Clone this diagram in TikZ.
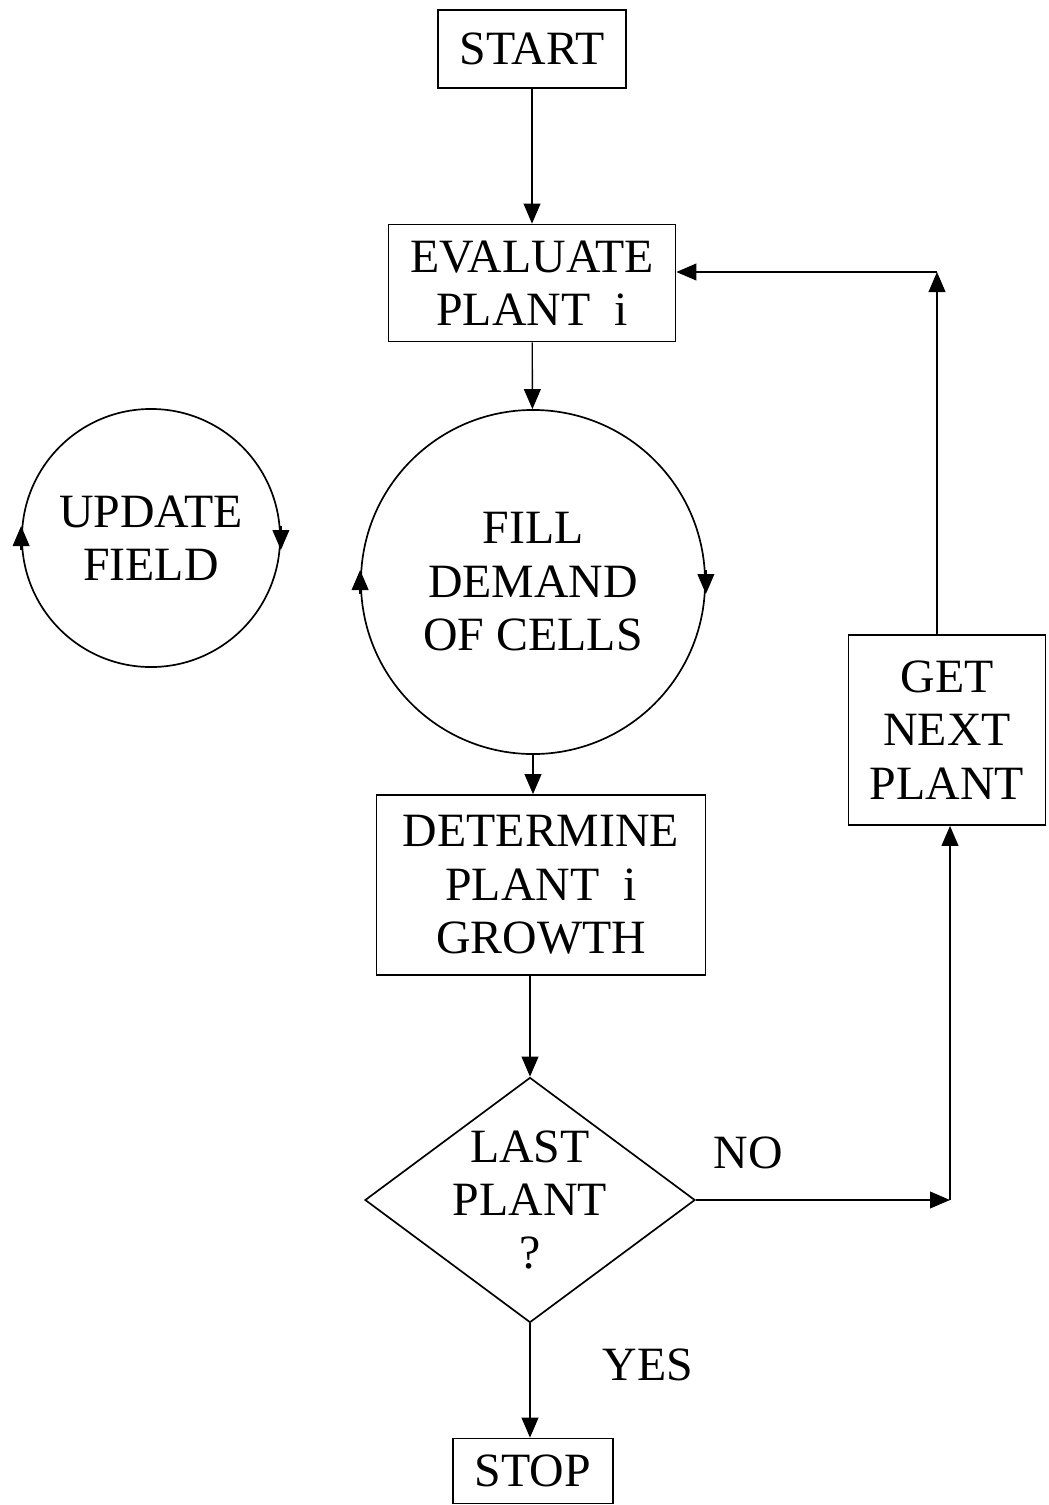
\documentclass[tikz,border=0pt]{standalone}
\usepackage{fontspec}
\setmainfont{Liberation Serif}
\usetikzlibrary{shapes.geometric,arrows.meta,positioning,calc}

\begin{document}
\begin{tikzpicture}[x=0.025cm,y=-0.025cm,
    box/.style={draw,line width=1.2pt,inner sep=0pt,
                font=\fontsize{34}{38}\selectfont,align=center},
    loop/.style={draw,circle,line width=1.2pt,inner sep=0pt,
                 font=\fontsize{34}{38}\selectfont,align=center},
    label/.style={font=\fontsize{34}{38}\selectfont},
    flow/.style={line width=1pt,-{Triangle[length=0.5cm,width=0.42cm]}}]
    \useasboundingbox (0,0) rectangle (1048,1505);
    % main column
    \node[box,minimum width=4.7cm,minimum height=1.95cm] (start) at (532,49) {START};
    \node[box,minimum width=7.175cm,minimum height=2.925cm] (eval) at (532,283) {EVALUATE\\PLANT\ \ i};
    \node[loop,minimum size=8.6cm] (fill) at (533,582) {FILL\\DEMAND\\OF CELLS};
    \node[box,minimum width=8.225cm,minimum height=4.5cm] (det) at (541,885) {DETERMINE\\PLANT\ \ i\\GROWTH};
    \node[box,shape=diamond,aspect=1.35,inner sep=-6pt,minimum width=8.25cm,minimum height=6.125cm] (last) at (530,1200) {LAST\\PLANT\\?};
    \node[box,minimum width=4.0cm,minimum height=1.625cm] (stop) at (533,1471) {STOP};
    % side nodes
    \node[box,minimum width=4.925cm,minimum height=4.75cm] (next) at (947,730) {GET\\NEXT\\PLANT};
    \node[loop,minimum size=6.45cm] (update) at (151,538) {UPDATE\\FIELD};
    \node[label] (no) at (748,1153) {NO};
    \node[label] (yes) at (648,1365) {YES};
    \coordinate (c1) at (950,1208);
    \coordinate (c2) at (937,272);

    \draw[flow] (start) -- (eval);
    \draw[flow] (eval) -- (fill);
    \draw[flow] (fill.south) -- (fill.south |- det.north);
    \draw[flow] (det.south -| last.north) -- (last.north);
    \draw[flow] (last.south) -- (last.south |- stop.north);
    \draw[flow] (last.east) -- (last.east -| c1);
    \draw[flow] (last.east -| c1) -- (c1 |- next.south);
    \draw[flow] (next.north -| c2) -- (c2);
    \draw[flow] (c2) -- (c2 -| eval.east);
    % arrows round the circles
    \foreach \n in {fill,update} {
      \draw[flow] ([yshift=0.3cm]\n.east) -- ([yshift=-0.3cm]\n.east);
      \draw[flow] ([yshift=-0.3cm]\n.west) -- ([yshift=0.3cm]\n.west);
    }
  \end{tikzpicture}
\end{document}
